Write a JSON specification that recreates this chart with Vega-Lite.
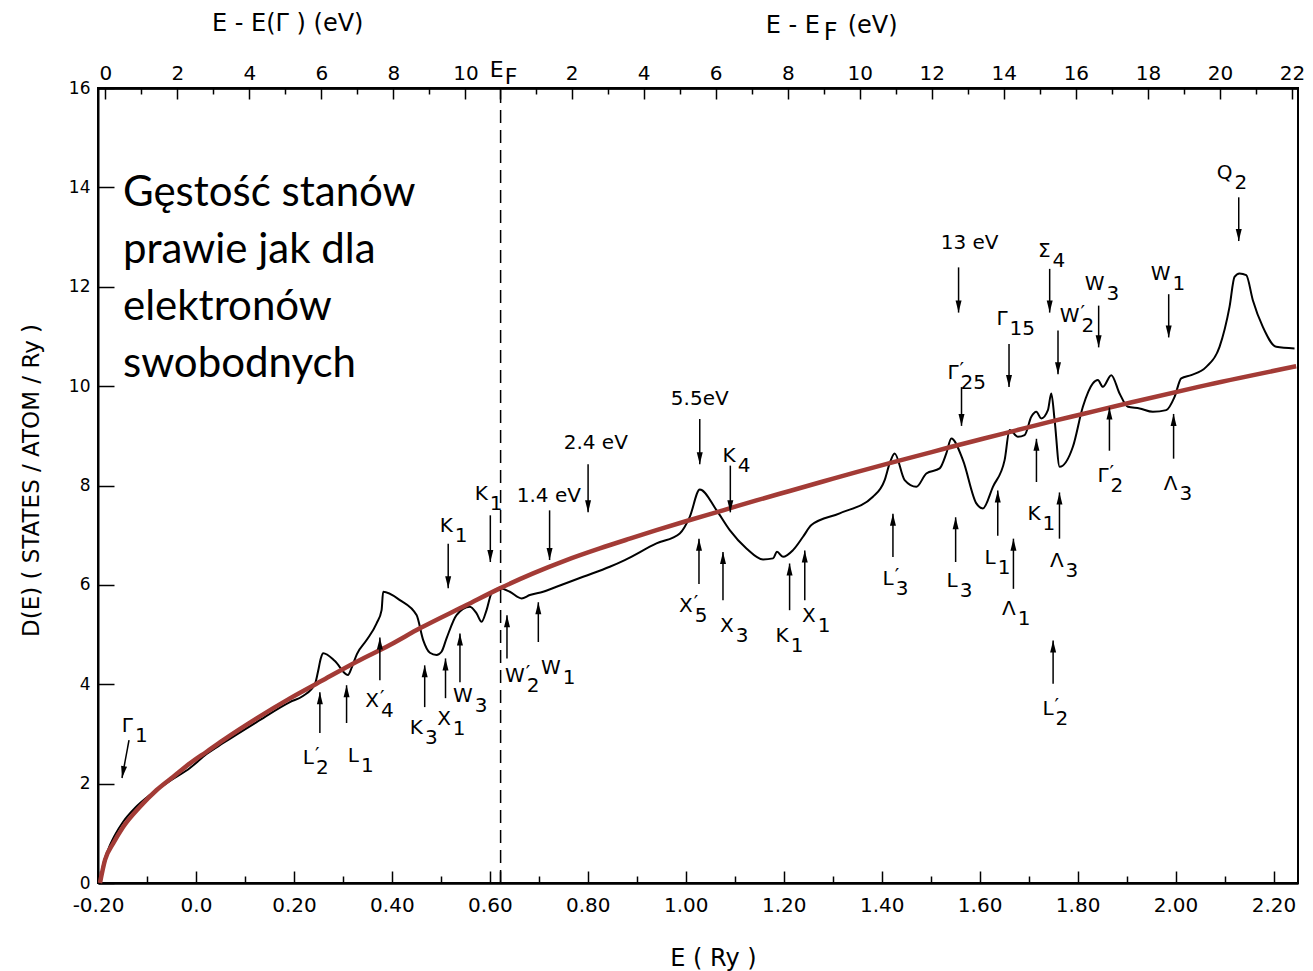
{
  "$schema": "https://vega.github.io/schema/vega-lite/v6.json",
  "width": 1200,
  "height": 795,
  "autosize": {"type": "none"},
  "padding": {"left": 98, "top": 88, "right": 15, "bottom": 88},
  "background": "white",
  "config": {
    "view": {"stroke": "black", "strokeWidth": 2},
    "axis": {"domainColor": "black", "domainWidth": 2, "tickColor": "black", "tickWidth": 1.5, "labelColor": "black", "labelFont": "DejaVu Sans", "labelFontSize": 19, "titleFont": "DejaVu Sans", "titleFontWeight": "normal", "titleColor": "black", "grid": false, "labelFlush": false, "labelOverlap": false},
    "text": {"font": "DejaVu Sans", "fontSize": 20, "color": "black"}
  },
  "datasets": {
    "dos": [
      {"E": -0.196, "D": 0}, {"E": -0.1898, "D": 0.362}, {"E": -0.1796, "D": 0.664}, {"E": -0.1653, "D": 0.966}, {"E": -0.149, "D": 1.227}, {"E": -0.1245, "D": 1.509}, {"E": -0.0939, "D": 1.771}, {"E": -0.0531, "D": 2.052}, {"E": -0.0122, "D": 2.314}, {"E": 0.0218, "D": 2.596}, {"E": 0.0557, "D": 2.817}, {"E": 0.1239, "D": 3.239}, {"E": 0.1918, "D": 3.642}, {"E": 0.2184, "D": 3.763}, {"E": 0.2429, "D": 4.004}, {"E": 0.249, "D": 4.245}, {"E": 0.2551, "D": 4.527}, {"E": 0.2598, "D": 4.622}, {"E": 0.2837, "D": 4.467}, {"E": 0.3102, "D": 4.185}, {"E": 0.3184, "D": 4.346}, {"E": 0.3286, "D": 4.608}, {"E": 0.3484, "D": 4.889}, {"E": 0.3688, "D": 5.225}, {"E": 0.379, "D": 5.493}, {"E": 0.3822, "D": 5.861}, {"E": 0.4163, "D": 5.694}, {"E": 0.4504, "D": 5.392}, {"E": 0.4639, "D": 4.889}, {"E": 0.4776, "D": 4.634}, {"E": 0.4912, "D": 4.588}, {"E": 0.5014, "D": 4.654}, {"E": 0.5116, "D": 4.924}, {"E": 0.532, "D": 5.392}, {"E": 0.5592, "D": 5.559}, {"E": 0.5729, "D": 5.427}, {"E": 0.5831, "D": 5.258}, {"E": 0.5933, "D": 5.493}, {"E": 0.6035, "D": 5.829}, {"E": 0.6204, "D": 5.93}, {"E": 0.6408, "D": 5.861}, {"E": 0.6647, "D": 5.728}, {"E": 0.6816, "D": 5.795}, {"E": 0.7088, "D": 5.861}, {"E": 0.7361, "D": 5.962}, {"E": 0.7904, "D": 6.163}, {"E": 0.8449, "D": 6.364}, {"E": 0.8755, "D": 6.499}, {"E": 0.9402, "D": 6.835}, {"E": 0.9878, "D": 7.036}, {"E": 1.0082, "D": 7.37}, {"E": 1.0286, "D": 7.921}, {"E": 1.0627, "D": 7.505}, {"E": 1.0898, "D": 7.103}, {"E": 1.1239, "D": 6.734}, {"E": 1.1578, "D": 6.513}, {"E": 1.1782, "D": 6.533}, {"E": 1.1863, "D": 6.666}, {"E": 1.1986, "D": 6.565}, {"E": 1.219, "D": 6.7}, {"E": 1.2394, "D": 6.968}, {"E": 1.2565, "D": 7.203}, {"E": 1.3143, "D": 7.439}, {"E": 1.3822, "D": 7.773}, {"E": 1.4061, "D": 8.109}, {"E": 1.4163, "D": 8.445}, {"E": 1.4265, "D": 8.646}, {"E": 1.4469, "D": 8.109}, {"E": 1.4708, "D": 7.974}, {"E": 1.4912, "D": 8.243}, {"E": 1.5184, "D": 8.344}, {"E": 1.532, "D": 8.646}, {"E": 1.5422, "D": 8.948}, {"E": 1.5659, "D": 8.511}, {"E": 1.5933, "D": 7.64}, {"E": 1.6067, "D": 7.539}, {"E": 1.6271, "D": 7.974}, {"E": 1.651, "D": 8.511}, {"E": 1.6612, "D": 9.115}, {"E": 1.6782, "D": 8.98}, {"E": 1.6918, "D": 9.014}, {"E": 1.7055, "D": 9.382}, {"E": 1.7157, "D": 9.483}, {"E": 1.7259, "D": 9.35}, {"E": 1.7394, "D": 9.517}, {"E": 1.7463, "D": 9.853}, {"E": 1.7531, "D": 9.316}, {"E": 1.7633, "D": 8.376}, {"E": 1.7904, "D": 8.779}, {"E": 1.8108, "D": 9.584}, {"E": 1.8312, "D": 10.054}, {"E": 1.8414, "D": 10.121}, {"E": 1.8516, "D": 9.986}, {"E": 1.8688, "D": 10.221}, {"E": 1.8857, "D": 9.853}, {"E": 1.9027, "D": 9.584}, {"E": 1.9265, "D": 9.551}, {"E": 1.9537, "D": 9.483}, {"E": 1.981, "D": 9.517}, {"E": 1.998, "D": 9.785}, {"E": 2.0116, "D": 10.155}, {"E": 2.032, "D": 10.221}, {"E": 2.0627, "D": 10.388}, {"E": 2.0898, "D": 10.791}, {"E": 2.1102, "D": 11.596}, {"E": 2.1204, "D": 12.199}, {"E": 2.1306, "D": 12.268}, {"E": 2.1443, "D": 12.233}, {"E": 2.1578, "D": 11.73}, {"E": 2.1782, "D": 11.193}, {"E": 2.2055, "D": 10.791}, {"E": 2.2429, "D": 10.758}
    ],
    "fe": [
      {"E": -0.196, "D": 0}, {"E": -0.1857, "D": 0.463}, {"E": -0.1688, "D": 0.799}, {"E": -0.1484, "D": 1.133}, {"E": -0.1143, "D": 1.535}, {"E": -0.0802, "D": 1.871}, {"E": -0.0463, "D": 2.139}, {"E": -0.0122, "D": 2.408}, {"E": 0.0218, "D": 2.642}, {"E": 0.0557, "D": 2.877}, {"E": 0.1239, "D": 3.314}, {"E": 0.1918, "D": 3.716}, {"E": 0.2598, "D": 4.085}, {"E": 0.328, "D": 4.453}, {"E": 0.3959, "D": 4.789}, {"E": 0.4571, "D": 5.125}, {"E": 0.5524, "D": 5.594}, {"E": 0.6204, "D": 5.93}, {"E": 0.6884, "D": 6.231}, {"E": 0.7565, "D": 6.499}, {"E": 0.8245, "D": 6.734}, {"E": 0.8857, "D": 6.93}, {"E": 0.9402, "D": 7.1}, {"E": 1.0, "D": 7.28}, {"E": 1.0761, "D": 7.5}, {"E": 1.1443, "D": 7.7}, {"E": 1.2122, "D": 7.89}, {"E": 1.2802, "D": 8.08}, {"E": 1.3484, "D": 8.27}, {"E": 1.4163, "D": 8.45}, {"E": 1.4708, "D": 8.59}, {"E": 1.5388, "D": 8.77}, {"E": 1.6067, "D": 8.94}, {"E": 1.6749, "D": 9.11}, {"E": 1.7429, "D": 9.28}, {"E": 1.8108, "D": 9.44}, {"E": 1.9129, "D": 9.68}, {"E": 2.049, "D": 9.99}, {"E": 2.2463, "D": 10.4}
    ],
    "arrows": [
      {"E": 0.515, "d1": 6.83, "d2": 5.93, "dir": "down"},
      {"E": 0.601, "d1": 7.4, "d2": 6.46, "dir": "down"},
      {"E": 0.722, "d1": 7.5, "d2": 6.5, "dir": "down"},
      {"E": 0.8006, "d1": 8.43, "d2": 7.46, "dir": "down"},
      {"E": 1.0286, "d1": 9.34, "d2": 8.43, "dir": "down"},
      {"E": 1.091, "d1": 8.4, "d2": 7.46, "dir": "down"},
      {"E": 1.557, "d1": 12.39, "d2": 11.48, "dir": "down"},
      {"E": 1.563, "d1": 9.98, "d2": 9.2, "dir": "down"},
      {"E": 1.66, "d1": 10.85, "d2": 9.98, "dir": "down"},
      {"E": 1.743, "d1": 12.36, "d2": 11.48, "dir": "down"},
      {"E": 1.76, "d1": 11.12, "d2": 10.24, "dir": "down"},
      {"E": 1.843, "d1": 11.62, "d2": 10.78, "dir": "down"},
      {"E": 1.986, "d1": 11.85, "d2": 10.98, "dir": "down"},
      {"E": 2.129, "d1": 13.8, "d2": 12.92, "dir": "down"},
      {"E": 0.253, "d1": 3.02, "d2": 3.84, "dir": "up"},
      {"E": 0.3075, "d1": 3.22, "d2": 3.98, "dir": "up"},
      {"E": 0.3755, "d1": 4.08, "d2": 4.94, "dir": "up"},
      {"E": 0.467, "d1": 3.54, "d2": 4.38, "dir": "up"},
      {"E": 0.5095, "d1": 3.72, "d2": 4.52, "dir": "up"},
      {"E": 0.539, "d1": 4.04, "d2": 5.02, "dir": "up"},
      {"E": 0.635, "d1": 4.52, "d2": 5.39, "dir": "up"},
      {"E": 0.699, "d1": 4.85, "d2": 5.65, "dir": "up"},
      {"E": 1.027, "d1": 6.02, "d2": 6.93, "dir": "up"},
      {"E": 1.076, "d1": 5.69, "d2": 6.66, "dir": "up"},
      {"E": 1.212, "d1": 5.49, "d2": 6.43, "dir": "up"},
      {"E": 1.243, "d1": 5.69, "d2": 6.69, "dir": "up"},
      {"E": 1.423, "d1": 6.56, "d2": 7.43, "dir": "up"},
      {"E": 1.551, "d1": 6.46, "d2": 7.36, "dir": "up"},
      {"E": 1.637, "d1": 6.99, "d2": 7.9, "dir": "up"},
      {"E": 1.669, "d1": 5.92, "d2": 6.93, "dir": "up"},
      {"E": 1.716, "d1": 8.07, "d2": 8.94, "dir": "up"},
      {"E": 1.763, "d1": 6.93, "d2": 7.86, "dir": "up"},
      {"E": 1.75, "d1": 4.01, "d2": 4.88, "dir": "up"},
      {"E": 1.865, "d1": 8.7, "d2": 9.57, "dir": "up"},
      {"E": 1.996, "d1": 8.54, "d2": 9.44, "dir": "up"}
    ],
    "labels": [
      {"E": -0.1286, "D": 3.038, "base": "Γ", "sub": "1"},
      {"E": 0.2408, "D": 2.394, "base": "L", "sup": "′", "sub": "2"},
      {"E": 0.3327, "D": 2.435, "base": "L", "sub": "1"},
      {"E": 0.3735, "D": 3.541, "base": "X", "sup": "′", "sub": "4"},
      {"E": 0.4633, "D": 2.998, "base": "K", "sub": "3"},
      {"E": 0.5204, "D": 3.179, "base": "X", "sub": "1"},
      {"E": 0.5653, "D": 3.642, "base": "W", "sub": "3"},
      {"E": 0.5245, "D": 7.062, "base": "K", "sub": "1"},
      {"E": 0.5959, "D": 7.706, "base": "K", "sub": "1"},
      {"E": 0.6714, "D": 4.044, "base": "W", "sup": "′", "sub": "2"},
      {"E": 0.7449, "D": 4.205, "base": "W", "sub": "1"},
      {"E": 1.0143, "D": 5.453, "base": "X", "sup": "′", "sub": "5"},
      {"E": 1.098, "D": 5.05, "base": "X", "sub": "3"},
      {"E": 1.2102, "D": 4.849, "base": "K", "sub": "1"},
      {"E": 1.2653, "D": 5.252, "base": "X", "sub": "1"},
      {"E": 1.102, "D": 8.471, "base": "K", "sub": "4"},
      {"E": 1.4245, "D": 5.996, "base": "L", "sup": "′", "sub": "3"},
      {"E": 1.5551, "D": 5.956, "base": "L", "sub": "3"},
      {"E": 1.5571, "D": 10.141, "base": "Γ", "sup": "′", "sub": "25"},
      {"E": 1.6571, "D": 11.227, "base": "Γ", "sub": "15"},
      {"E": 1.6327, "D": 6.419, "base": "L", "sub": "1"},
      {"E": 1.6735, "D": 5.392, "base": "Λ", "sub": "1"},
      {"E": 1.7245, "D": 7.304, "base": "K", "sub": "1"},
      {"E": 1.7714, "D": 6.358, "base": "Λ", "sub": "3"},
      {"E": 1.7449, "D": 12.596, "base": "Σ", "sub": "4"},
      {"E": 1.8041, "D": 11.288, "base": "W", "sup": "′", "sub": "2"},
      {"E": 1.8551, "D": 11.932, "base": "W", "sub": "3"},
      {"E": 1.9898, "D": 12.133, "base": "W", "sub": "1"},
      {"E": 2.1163, "D": 14.165, "base": "Q", "sub": "2"},
      {"E": 1.8633, "D": 8.068, "base": "Γ", "sup": "′", "sub": "2"},
      {"E": 2.0041, "D": 7.907, "base": "Λ", "sub": "3"},
      {"E": 1.751, "D": 3.38, "base": "L", "sup": "′", "sub": "2"}
    ],
    "evlabels": [
      {"E": 0.7204, "D": 7.666, "text": "1.4 eV"},
      {"E": 0.8163, "D": 8.732, "text": "2.4 eV"},
      {"E": 1.0286, "D": 9.618, "text": "5.5eV"},
      {"E": 1.5796, "D": 12.757, "text": "13 eV"}
    ],
    "titles": [
      {"E": 0.0327, "D": 17.143, "text": "E - E(Γ ) (eV)"},
      {"E": 1.1633, "D": 17.1, "text": "E - E"},
      {"E": 1.2816, "D": 16.96, "text": "F"},
      {"E": 1.3306, "D": 17.1, "text": "(eV)"}
    ],
    "eflabel": [
      {"E": 0.6, "D": 16.217, "text": "E"},
      {"E": 0.6306, "D": 16.076, "text": "F"}
    ]
  },
  "resolve": {"axis": {"x": "independent", "y": "independent"}},
  "layer": [
    {
      "data": {"name": "dos"},
      "mark": {"type": "line", "color": "black", "strokeWidth": 2, "interpolate": "monotone"},
      "encoding": {
        "x": {"field": "E", "type": "quantitative", "scale": {"domain": [-0.2, 2.25], "nice": false, "zero": false},
          "axis": {"orient": "bottom", "values": [-0.2, 0, 0.2, 0.4, 0.6, 0.62, 0.8, 1, 1.2, 1.4, 1.6, 1.8, 2, 2.2], "tickSize": -12, "labelPadding": 24, "labelFontSize": 20,
            "labelExpr": "abs(datum.value - 0.62) < 0.001 ? '' : (datum.value == 0 ? '0.0' : replace(format(datum.value, '.2f'), '−', '-'))",
            "title": "E  ( Ry )", "titleFontSize": 24, "titleX": 615, "titleY": 82, "titleBaseline": "alphabetic", "titleAlign": "center", "titleAnchor": "start"}},
        "y": {"field": "D", "type": "quantitative", "scale": {"domain": [0, 16], "nice": false, "zero": false},
          "axis": {"orient": "left", "values": [0, 2, 4, 6, 8, 10, 12, 14, 16], "tickSize": -16, "labelPadding": 24, "labelFontSize": 17,
            "title": "D(E)   ( STATES / ATOM / Ry )", "titleFontSize": 23, "titleX": -60, "titleY": 392, "titleAngle": -90, "titleBaseline": "alphabetic", "titleAlign": "center", "titleAnchor": "start"}}
      }
    },
    {
      "data": {"name": "fe"},
      "mark": {"type": "line", "color": "#A33B36", "strokeWidth": 4.5, "interpolate": "monotone"},
      "encoding": {
        "x": {"field": "E", "type": "quantitative", "scale": {"domain": [-0.2, 2.25], "nice": false, "zero": false},
          "axis": {"orient": "bottom", "values": [-0.1, 0.1, 0.3, 0.5, 0.7, 0.9, 1.1, 1.3, 1.5, 1.7, 1.9, 2.1], "tickSize": -7, "labels": false, "title": null}},
        "y": {"field": "D", "type": "quantitative", "scale": {"domain": [0, 16], "nice": false, "zero": false}, "axis": null}
      }
    },
    {
      "data": {"values": [{"E": 0.622}]},
      "mark": {"type": "rule", "color": "black", "strokeWidth": 1.5, "strokeDash": [13, 7]},
      "encoding": {
        "x": {"field": "E", "type": "quantitative", "scale": {"domain": [-0.2, 2.25], "nice": false, "zero": false},
          "axis": {"orient": "top", "values": [-0.185, -0.03794, 0.10912, 0.25618, 0.40324, 0.5503], "tickSize": -11, "labelPadding": 20, "labelBaseline": "alphabetic", "labelFontSize": 20,
            "labelExpr": "'' + round((datum.value + 0.185) * 13.6)", "title": null}},
        "y": {"datum": 0, "type": "quantitative", "scale": {"domain": [0, 16], "nice": false, "zero": false}, "axis": null},
        "y2": {"datum": 16}
      }
    },
    {
      "data": {"name": "arrows"},
      "mark": {"type": "rule", "color": "black", "strokeWidth": 1.5},
      "encoding": {
        "x": {"field": "E", "type": "quantitative", "scale": {"domain": [-0.2, 2.25], "nice": false, "zero": false},
          "axis": {"orient": "top", "values": [0.62, 0.76706, 0.91412, 1.06118, 1.20824, 1.35529, 1.50235, 1.64941, 1.79647, 1.94353, 2.09059, 2.23765], "tickSize": -11, "labelPadding": 20, "labelBaseline": "alphabetic", "labelFontSize": 20,
            "labelExpr": "datum.value < 0.7 ? '' : '' + round((datum.value - 0.62) * 13.6)", "title": null}},
        "y": {"field": "d1", "type": "quantitative", "scale": {"domain": [0, 16], "nice": false, "zero": false}, "axis": null},
        "y2": {"field": "d2"}
      }
    },
    {
      "data": {"name": "arrows"},
      "mark": {"type": "point", "filled": true, "color": "black", "opacity": 1, "size": 576, "strokeWidth": 0},
      "encoding": {
        "x": {"field": "E", "type": "quantitative", "scale": {"domain": [-0.2, 2.25], "nice": false, "zero": false},
          "axis": {"orient": "top", "values": [-0.11147, 0.03559, 0.18265, 0.32971, 0.47676, 0.69353, 0.84059, 0.98765, 1.13471, 1.28176, 1.42882, 1.57588, 1.72294, 1.87, 2.01706, 2.16412], "tickSize": -6, "labels": false, "title": null}},
        "y": {"field": "d2", "type": "quantitative", "scale": {"domain": [0, 16], "nice": false, "zero": false}, "axis": null},
        "shape": {"field": "dir", "type": "nominal", "scale": {"domain": ["down", "up"], "range": ["M0,0L-0.25,-1L0.25,-1Z", "M0,0L-0.25,1L0.25,1Z"]}, "legend": null}
      }
    },
    {
      "data": {"values": [{"E": -0.1367, "D": 2.877, "E2": -0.151, "D2": 2.113}]},
      "mark": {"type": "rule", "color": "black", "strokeWidth": 1.5},
      "encoding": {
        "x": {"field": "E", "type": "quantitative", "scale": {"domain": [-0.2, 2.25], "nice": false, "zero": false}, "axis": null},
        "x2": {"field": "E2"},
        "y": {"field": "D", "type": "quantitative", "scale": {"domain": [0, 16], "nice": false, "zero": false}, "axis": null},
        "y2": {"field": "D2"}
      }
    },
    {
      "data": {"values": [{"E": -0.151, "D": 2.113}]},
      "mark": {"type": "point", "filled": true, "color": "black", "opacity": 1, "size": 576, "strokeWidth": 0, "angle": 10, "shape": "M0,0L-0.25,-1L0.25,-1Z"},
      "encoding": {
        "x": {"field": "E", "type": "quantitative", "scale": {"domain": [-0.2, 2.25], "nice": false, "zero": false}, "axis": null},
        "y": {"field": "D", "type": "quantitative", "scale": {"domain": [0, 16], "nice": false, "zero": false}, "axis": null}
      }
    },
    {
      "data": {"name": "labels"},
      "mark": {"type": "text", "align": "right", "baseline": "alphabetic", "fontSize": 20},
      "encoding": {
        "x": {"field": "E", "type": "quantitative", "scale": {"domain": [-0.2, 2.25], "nice": false, "zero": false}, "axis": null},
        "y": {"field": "D", "type": "quantitative", "scale": {"domain": [0, 16], "nice": false, "zero": false}, "axis": null},
        "text": {"field": "base"}
      }
    },
    {
      "data": {"name": "labels"},
      "transform": [{"filter": "datum.sup"}],
      "mark": {"type": "text", "align": "left", "baseline": "alphabetic", "fontSize": 20, "dx": 1, "dy": -3},
      "encoding": {
        "x": {"field": "E", "type": "quantitative", "scale": {"domain": [-0.2, 2.25], "nice": false, "zero": false}, "axis": null},
        "y": {"field": "D", "type": "quantitative", "scale": {"domain": [0, 16], "nice": false, "zero": false}, "axis": null},
        "text": {"field": "sup"}
      }
    },
    {
      "data": {"name": "labels"},
      "mark": {"type": "text", "align": "left", "baseline": "alphabetic", "fontSize": 20, "dx": 2, "dy": 10},
      "encoding": {
        "x": {"field": "E", "type": "quantitative", "scale": {"domain": [-0.2, 2.25], "nice": false, "zero": false}, "axis": null},
        "y": {"field": "D", "type": "quantitative", "scale": {"domain": [0, 16], "nice": false, "zero": false}, "axis": null},
        "text": {"field": "sub"}
      }
    },
    {
      "data": {"name": "evlabels"},
      "mark": {"type": "text", "align": "center", "baseline": "alphabetic", "fontSize": 20},
      "encoding": {
        "x": {"field": "E", "type": "quantitative", "scale": {"domain": [-0.2, 2.25], "nice": false, "zero": false}, "axis": null},
        "y": {"field": "D", "type": "quantitative", "scale": {"domain": [0, 16], "nice": false, "zero": false}, "axis": null},
        "text": {"field": "text"}
      }
    },
    {
      "data": {"name": "titles"},
      "mark": {"type": "text", "align": "left", "baseline": "alphabetic", "fontSize": 24},
      "encoding": {
        "x": {"field": "E", "type": "quantitative", "scale": {"domain": [-0.2, 2.25], "nice": false, "zero": false}, "axis": null},
        "y": {"field": "D", "type": "quantitative", "scale": {"domain": [0, 16], "nice": false, "zero": false}, "axis": null},
        "text": {"field": "text"}
      }
    },
    {
      "data": {"name": "eflabel"},
      "mark": {"type": "text", "align": "left", "baseline": "alphabetic", "fontSize": 22},
      "encoding": {
        "x": {"field": "E", "type": "quantitative", "scale": {"domain": [-0.2, 2.25], "nice": false, "zero": false}, "axis": null},
        "y": {"field": "D", "type": "quantitative", "scale": {"domain": [0, 16], "nice": false, "zero": false}, "axis": null},
        "text": {"field": "text"}
      }
    },
    {
      "data": {"values": [{"E": -0.149, "D": 13.62, "text": "Gęstość stanów\nprawie jak dla\nelektronów\nswobodnych"}]},
      "mark": {"type": "text", "align": "left", "baseline": "alphabetic", "font": "Lato", "fontSize": 42, "lineBreak": "\n", "lineHeight": 57},
      "encoding": {
        "x": {"field": "E", "type": "quantitative", "scale": {"domain": [-0.2, 2.25], "nice": false, "zero": false}, "axis": null},
        "y": {"field": "D", "type": "quantitative", "scale": {"domain": [0, 16], "nice": false, "zero": false}, "axis": null},
        "text": {"field": "text"}
      }
    }
  ]
}
